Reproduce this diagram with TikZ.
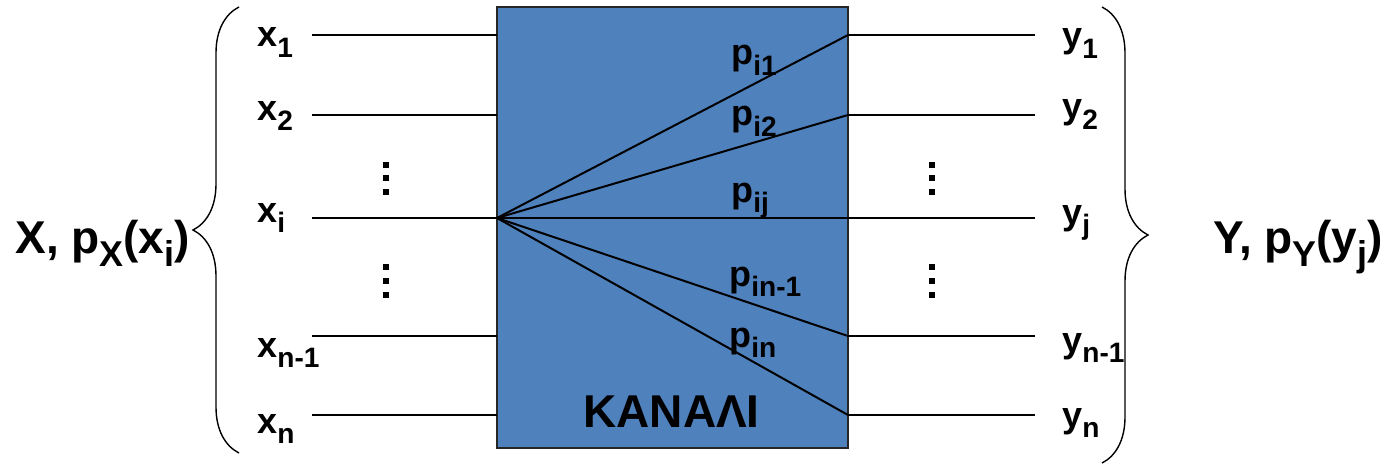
\documentclass[tikz,border=0pt]{standalone}
\usepackage{fontspec}
\setmainfont{Liberation Sans}
\usetikzlibrary{decorations.pathreplacing}
\definecolor{chanblue}{RGB}{79,129,189}
\newcommand{\lo}[1]{\raisebox{-0.3em}{\scalebox{0.78}{#1}}}
\tikzset{
  lbl/.style={font=\fontsize{18}{20}\selectfont\bfseries, inner sep=0pt, anchor=base west},
  biglbl/.style={font=\fontsize{23}{26}\selectfont\bfseries, inner sep=0pt, anchor=base west},
  wire/.style={line width=1pt},
  chanbox/.style={draw=black!85, fill=chanblue, line width=1pt, inner sep=0pt,
    minimum width=175.5pt, minimum height=220.5pt},
  vdot/.style={fill, inner sep=0pt, minimum size=3pt},
  curly/.style={line width=0.7pt, decorate, decoration={brace, amplitude=23pt}}
}
\begin{document}
\begin{tikzpicture}[x=0.5pt, y=-0.5pt]
  \useasboundingbox (0,0) rectangle (1381,465);
  % channel
  \node[chanbox] (chan) at (672.5,227.5) {};
  \node[biglbl] (kanali) at (583,427) {ΚΑΝΑΛΙ};
  % rows
  \foreach \r/\yy in {1/35, 2/115, i/218, m/336, n/415} {
    \coordinate (xs\r) at (312,\yy);
    \coordinate (xe\r) at (497,\yy);
    \coordinate (ys\r) at (848,\yy);
    \coordinate (ye\r) at (1035,\yy);
  }
  \foreach \r in {1,2,i,m,n} {
    \draw[wire] (xs\r) -- (xe\r);
    \draw[wire] (ys\r) -- (ye\r);
    \draw[wire] (xei) -- (ys\r);
  }
  % inputs
  \node[lbl] (x1) at (257,47) {x\lo{1}};
  \node[lbl] (x2) at (257,120) {x\lo{2}};
  \node[lbl] (xi) at (257,222) {x\lo{i}};
  \node[lbl] (xm) at (257,357) {x\lo{n-1}};
  \node[lbl] (xn) at (257,433) {x\lo{n}};
  % outputs
  \node[lbl] (y1) at (1062,48) {y\lo{1}};
  \node[lbl] (y2) at (1062,119) {y\lo{2}};
  \node[lbl] (yj) at (1062,224) {y\lo{j}};
  \node[lbl] (ym) at (1062,352) {y\lo{n-1}};
  \node[lbl] (yn) at (1062,427) {y\lo{n}};
  % transition probabilities
  \node[lbl] (p1) at (731,65) {p\lo{i1}};
  \node[lbl] (p2) at (731,126) {p\lo{i2}};
  \node[lbl] (pj) at (731,202) {p\lo{ij}};
  \node[lbl] (pm) at (729,286) {p\lo{in-1}};
  \node[lbl] (pn) at (729,347) {p\lo{in}};
  % dots
  \foreach \dx in {386,932}
    \foreach \dy in {165,178,192,267,281,295}
      \node[vdot] at (\dx,\dy) {};
  % braces
  \coordinate (lbt) at (239,7);
  \coordinate (lbb) at (239,453);
  \coordinate (rbt) at (1102,7);
  \coordinate (rbb) at (1102,463);
  \draw[curly] (lbb) -- (lbt);
  \draw[curly] (rbt) -- (rbb);
  \node[biglbl] (X) at (15,253) {X, p\lo{X}(x\lo{i})};
  \node[biglbl] (Y) at (1213,253) {Y, p\lo{Y}(y\lo{j})};
\end{tikzpicture}
\end{document}
